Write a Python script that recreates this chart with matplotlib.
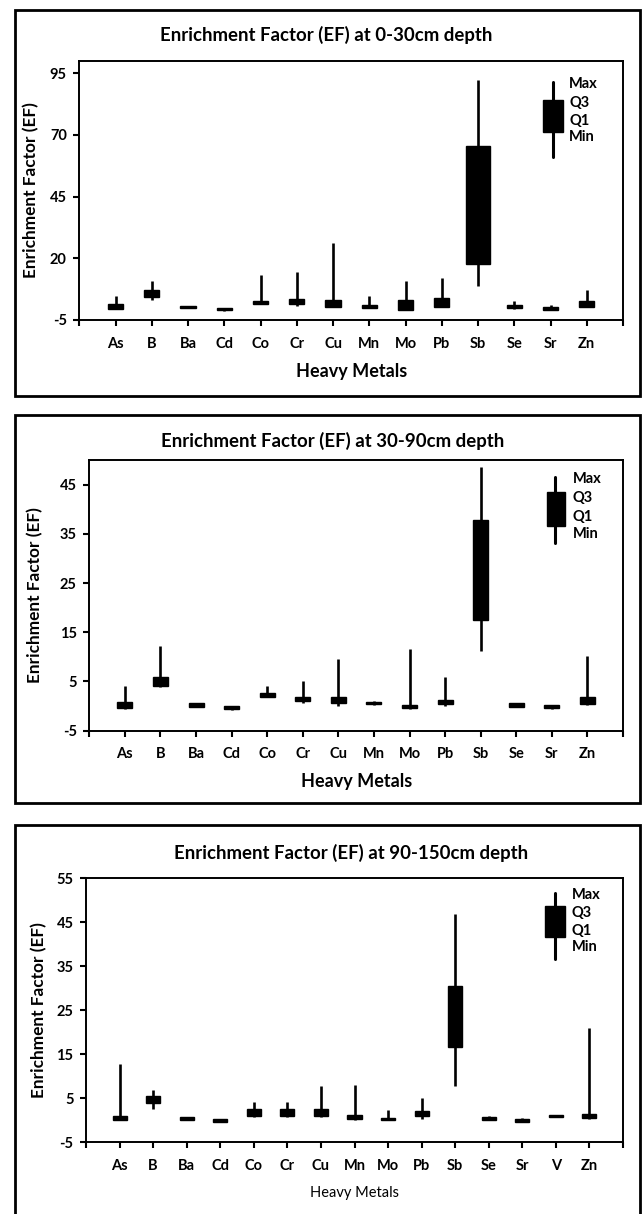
import matplotlib
matplotlib.use("Agg")
import matplotlib.pyplot as plt
from matplotlib.patches import Rectangle

plt.rcParams['font.family'] = ['Lato', 'DejaVu Sans']

# ---------------- data ----------------
titles = ["Enrichment Factor (EF) at 0-30cm depth",
          "Enrichment Factor (EF) at 30-90cm depth",
          "Enrichment Factor (EF) at 90-150cm depth"]

metals_1 = ['As', 'B', 'Ba', 'Cd', 'Co', 'Cr', 'Cu', 'Mn', 'Mo', 'Pb', 'Sb', 'Se', 'Sr', 'Zn']
min_1 = [-0.7, 3.0, -0.1, -1.2, 1.5, 0.5, 0.2, -0.1, -0.9, 0.2, 8.8, -0.4, -1.0, 0.2]
q1_1 = [-0.7, 4.3, 0.0, -1.1, 1.6, 1.4, 0.3, 0.0, -0.8, 0.3, 17.6, -0.3, -0.9, 0.3]
q3_1 = [1.6, 7.0, 0.6, -0.2, 2.7, 3.7, 3.1, 0.95, 3.1, 4.1, 65.6, 1.0, 0.4, 2.7]
max_1 = [4.7, 10.6, 0.7, -0.1, 13.3, 14.6, 26.1, 4.7, 10.6, 12.2, 92.0, 2.7, 1.0, 7.2]

metals_2 = ['As', 'B', 'Ba', 'Cd', 'Co', 'Cr', 'Cu', 'Mn', 'Mo', 'Pb', 'Sb', 'Se', 'Sr', 'Zn']
min_2 = [-0.5, 3.9, -0.2, -0.7, 1.8, 0.56, 0.0, 0.3, -0.5, 0.0, 11.1, -0.2, -0.5, 0.3]
q1_2 = [-0.45, 4.0, -0.1, -0.66, 1.9, 1.1, 0.56, 0.36, -0.45, 0.43, 17.5, -0.1, -0.45, 0.43]
q3_2 = [0.9, 6.0, 0.56, 0.0, 2.6, 1.9, 1.8, 0.9, 0.2, 1.24, 37.9, 0.56, 0.2, 1.8]
max_2 = [4.0, 12.2, 0.6, 0.05, 4.1, 5.0, 9.5, 1.1, 11.6, 5.85, 48.6, 0.7, 0.3, 10.1]

metals_3 = ['As', 'B', 'Ba', 'Cd', 'Co', 'Cr', 'Cu', 'Mn', 'Mo', 'Pb', 'Sb', 'Se', 'Sr', 'V', 'Zn']
min_3 = [0.0, 2.6, -0.1, -0.45, 0.7, 0.7, 0.7, 0.1, -0.1, 0.2, 7.8, -0.1, -0.45, 0.6, 0.3]
q1_3 = [0.08, 3.9, -0.08, -0.4, 0.83, 0.83, 1.0, 0.2, -0.08, 0.83, 16.6, -0.08, -0.4, 0.6, 0.45]
q3_3 = [0.83, 5.5, 0.6, 0.2, 2.5, 2.5, 2.5, 1.2, 0.45, 1.97, 30.5, 0.6, 0.2, 1.2, 1.4]
max_3 = [12.8, 6.9, 0.6, 0.2, 4.1, 4.1, 7.8, 8.0, 2.2, 5.0, 46.9, 0.83, 0.45, 1.2, 20.8]

yticks_1 = [-5, 20, 45, 70, 95]
yticks_2 = [-5, 5, 15, 25, 35, 45]
yticks_3 = [-5, 5, 15, 25, 35, 45, 55]
legend_labels = ['Max', 'Q3', 'Q1', 'Min']

# ---------------- layout (pixels) ----------------
W, H = 643, 1214
fig = plt.figure(figsize=(W / 100, H / 100), dpi=100)


def fx(x):
    return x / W


def fy(y):
    return 1 - y / H


panels = [
    dict(box=(15, 10, 640, 396), axes=(79.3, 60.7, 623, 320), ylim=(-5, 100),
         title_xy=(326, 35), ylab_x=31, xlab_bold=True, xlab_size=13,
         wide={'Sb': 0.68},
         leg=dict(wx=0.871, wt=0.919, wb=0.629, bx0=0.852, bx1=0.889, bt=0.848, bb=0.726,
                  lx=0.901, ly=[0.910, 0.837, 0.767, 0.706])),
    dict(box=(15, 415, 640, 803), axes=(89.3, 460, 623, 730.7), ylim=(-5, 50),
         title_xy=(333, 441), ylab_x=35, xlab_bold=True, xlab_size=13,
         wide={},
         leg=dict(wx=0.873, wt=0.938, wb=0.694, bx0=0.858, bx1=0.891, bt=0.883, bb=0.756,
                  lx=0.906, ly=[0.930, 0.860, 0.789, 0.727])),
    dict(box=(15, 825, 640, 1240), axes=(86, 878, 623, 1142), ylim=(-5, 55),
         title_xy=(351, 853), ylab_x=39, xlab_bold=False, xlab_size=10.5,
         wide={},
         leg=dict(wx=0.873, wt=0.944, wb=0.693, bx0=0.855, bx1=0.892, bt=0.895, bb=0.775,
                  lx=0.905, ly=[0.936, 0.869, 0.801, 0.739])),
]

datasets = [
    (metals_1, min_1, q1_1, q3_1, max_1, yticks_1),
    (metals_2, min_2, q1_2, q3_2, max_2, yticks_2),
    (metals_3, min_3, q1_3, q3_3, max_3, yticks_3),
]

BOX_W = 0.42
WLW = 1.9

for p, (metals, mins, q1s, q3s, maxs, yt), title in zip(panels, datasets, titles):
    # outer frame
    x0, y0, x1, y1 = p['box']
    fig.add_artist(Rectangle((fx(x0), fy(y1)), fx(x1) - fx(x0), fy(y0) - fy(y1),
                             transform=fig.transFigure, fill=False, lw=2.0,
                             edgecolor='black'))
    fig.text(fx(p['title_xy'][0]), fy(p['title_xy'][1]), title, ha='center', va='center',
             fontsize=13.4, fontweight='bold')

    ax0, ay0, ax1, ay1 = p['axes']
    ax = fig.add_axes([fx(ax0), fy(ay1), fx(ax1) - fx(ax0), fy(ay0) - fy(ay1)])
    n = len(metals)
    xs = list(range(1, n + 1))
    widths = [p['wide'].get(m, BOX_W) for m in metals]
    ax.vlines(xs, mins, maxs, color='black', lw=WLW, zorder=2)
    heights = [b - a for a, b in zip(q1s, q3s)]
    ax.bar(xs, heights, bottom=q1s, width=widths, color='black', edgecolor='black',
           linewidth=1.0, zorder=3)

    ax.set_xlim(0, n + 1)
    ax.set_ylim(*p['ylim'])
    ax.set_yticks(yt)
    ax.set_yticklabels([str(v) for v in yt], fontsize=10.5, fontweight='bold')
    ax.set_xticks(range(0, n + 2))
    ax.set_xticklabels([''] + metals + [''], fontsize=10.5, fontweight='bold')
    ax.tick_params(axis='x', direction='out', length=4, width=1.5, pad=8)
    ax.tick_params(axis='y', direction='out', length=4, width=1.5, pad=5)
    for s in ax.spines.values():
        s.set_linewidth(1.4)

    # y label / x label
    fig.text(fx(p['ylab_x']), (fy(ay0) + fy(ay1)) / 2, "Enrichment Factor (EF)",
             rotation=90, ha='center', va='center', fontsize=12.4, fontweight='bold')
    fig.text((fx(ax0) + fx(ax1)) / 2, fy(ay1 + 51), "Heavy Metals", ha='center',
             va='center', fontsize=p['xlab_size'],
             fontweight='bold' if p['xlab_bold'] else 'normal')

    # legend glyph
    lg = p['leg']
    ax.plot([lg['wx'], lg['wx']], [lg['wb'], lg['wt']], transform=ax.transAxes,
            color='black', lw=WLW + 0.3, solid_capstyle='round', zorder=4, clip_on=False)
    ax.add_patch(Rectangle((lg['bx0'], lg['bb']), lg['bx1'] - lg['bx0'], lg['bt'] - lg['bb'],
                           transform=ax.transAxes, facecolor='black', edgecolor='black',
                           zorder=5))
    for lab, yy in zip(legend_labels, lg['ly']):
        ax.text(lg['lx'], yy, lab, transform=ax.transAxes, ha='left', va='center',
                fontsize=10.5, fontweight='bold')

fig.savefig("out.png", dpi=100)
